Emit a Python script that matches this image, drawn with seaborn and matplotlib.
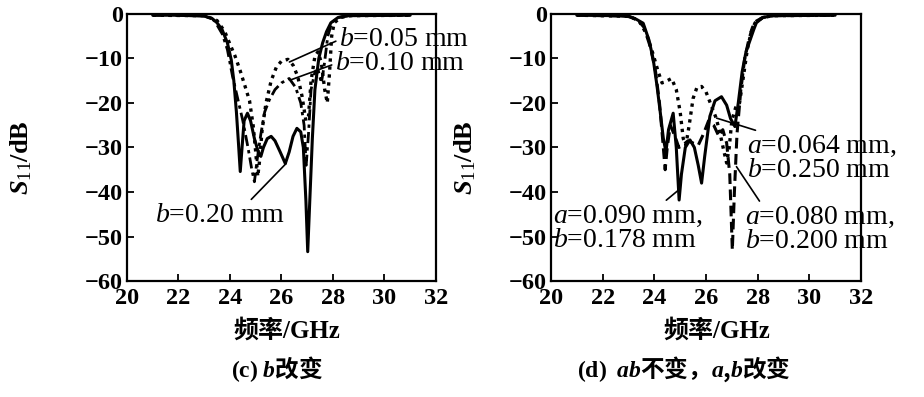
import matplotlib
matplotlib.use('Agg')
import matplotlib.pyplot as plt
import seaborn as sns
import pandas as pd

# curves: (frequency GHz, S11 dB)
c_b005 = [(21.0, -0.3), (23.0, -0.4), (23.5, -1.5), (23.8, -4), (24.0, -6.8), (24.2, -9.5),
          (24.4, -12.8), (24.6, -16.5), (24.76, -19.5), (24.9, -25), (25.0, -31), (25.08, -36.5),
          (25.15, -33), (25.25, -26), (25.4, -20), (25.6, -15), (25.8, -12), (26.0, -10.6),
          (26.25, -10.2), (26.45, -11.5), (26.63, -14), (26.8, -18.5), (26.95, -24), (27.05, -23),
          (27.15, -15), (27.3, -9.5), (27.42, -8.5), (27.55, -11), (27.68, -17), (27.78, -20),
          (27.87, -13), (27.95, -5), (28.05, -2), (28.3, -0.8), (28.7, -0.4), (31.0, -0.3)]
c_b010 = [(21.0, -0.3), (23.0, -0.4), (23.4, -1.5), (23.7, -4.5), (23.9, -8), (24.1, -14),
          (24.3, -19), (24.5, -24), (24.7, -30), (24.85, -35), (24.95, -37.7), (25.05, -33),
          (25.2, -27), (25.35, -22), (25.53, -19.3), (25.75, -17), (26.0, -15.5), (26.3, -14.5),
          (26.55, -16.5), (26.75, -20), (26.88, -25), (26.96, -34), (27.05, -27), (27.15, -17),
          (27.3, -13), (27.42, -12.5), (27.55, -15.5), (27.65, -12), (27.8, -5), (27.95, -2),
          (28.2, -0.8), (28.6, -0.4), (31.0, -0.3)]
c_b020 = [(21.0, -0.3), (22.0, -0.3), (23.0, -0.5), (23.3, -1.0), (23.5, -2), (23.7, -3.6),
          (23.9, -6.5), (24.05, -10.3), (24.15, -15), (24.25, -22), (24.33, -29), (24.4, -35.4),
          (24.47, -30), (24.55, -24), (24.68, -22.3), (24.8, -24), (24.95, -28), (25.1, -31),
          (25.2, -32), (25.3, -30), (25.45, -28), (25.6, -27.5), (25.75, -28.5), (25.95, -31),
          (26.15, -33.6), (26.3, -31), (26.45, -27.5), (26.6, -25.7), (26.75, -26.5), (26.85, -30),
          (26.95, -42), (27.02, -53.4), (27.1, -42), (27.2, -28), (27.3, -17), (27.45, -10),
          (27.6, -6.5), (27.75, -4), (27.92, -2), (28.2, -0.8), (28.6, -0.4), (31.0, -0.3)]

d_a064 = [(21.0, -0.3), (23.0, -0.5), (23.4, -1.5), (23.7, -4.5), (23.95, -9), (24.15, -13),
          (24.3, -15.5), (24.5, -15), (24.67, -14.5), (24.85, -17), (25.0, -22), (25.12, -28),
          (25.22, -29.5), (25.35, -25), (25.5, -19), (25.65, -16.5), (25.83, -16.3), (26.0, -17.5),
          (26.2, -20.5), (26.4, -23.5), (26.55, -27), (26.7, -31), (26.8, -33.5), (26.9, -30),
          (27.0, -24), (27.15, -21), (27.3, -20), (27.45, -14), (27.6, -8), (27.75, -4),
          (27.9, -2), (28.2, -0.8), (28.6, -0.4), (31.0, -0.3)]
d_a090 = [(21.0, -0.3), (22.5, -0.4), (23.0, -0.6), (23.3, -1.2), (23.57, -2.1), (23.8, -6),
          (23.96, -10.3), (24.1, -16), (24.22, -21.6), (24.35, -28), (24.45, -31), (24.55, -26),
          (24.73, -22.3), (24.85, -30), (24.96, -41.8), (25.05, -36), (25.2, -30), (25.38, -28.3),
          (25.55, -30), (25.7, -34), (25.83, -38), (25.95, -32), (26.15, -23), (26.35, -19.5),
          (26.6, -18.6), (26.8, -20.5), (26.95, -23.5), (27.12, -25.3), (27.25, -20), (27.4, -13),
          (27.55, -8.5), (27.7, -6), (27.85, -3.5), (27.95, -2), (28.2, -0.8), (28.6, -0.4),
          (31.0, -0.3)]
d_a080 = [(21.0, -0.3), (23.0, -0.5), (23.35, -1.3), (23.6, -3), (23.85, -7.5), (24.05, -13),
          (24.2, -20), (24.32, -28), (24.42, -35), (24.5, -30), (24.62, -25), (24.8, -27.5),
          (24.95, -30), (25.1, -29.5), (25.3, -28.5), (25.5, -29), (25.7, -29.5), (25.9, -27),
          (26.1, -24), (26.3, -25), (26.5, -27.5), (26.65, -26), (26.8, -29), (26.92, -36),
          (27.02, -53), (27.1, -40), (27.2, -27), (27.35, -17), (27.5, -10), (27.65, -6),
          (27.8, -3), (27.95, -1.6), (28.2, -0.8), (28.6, -0.4), (31.0, -0.3)]

xticks = [20, 22, 24, 26, 28, 30, 32]
yticks = [0, -10, -20, -30, -40, -50, -60]

sns.set_theme(style='white')
plt.rcParams['font.family'] = ['Liberation Serif', 'Noto Sans CJK SC']
plt.rcParams['text.color'] = 'black'
plt.rcParams['axes.labelcolor'] = 'black'
plt.rcParams['mathtext.fontset'] = 'custom'
plt.rcParams['mathtext.rm'] = 'Liberation Serif'
plt.rcParams['mathtext.it'] = 'Liberation Serif:italic'
plt.rcParams['mathtext.bf'] = 'Liberation Serif:bold'
plt.rcParams['mathtext.bfit'] = 'Liberation Serif:italic:bold'

fig = plt.figure(figsize=(9.24, 3.97), dpi=100)
ax1 = fig.add_axes([0.1374, 0.292, 0.3344, 0.673])
ax2 = fig.add_axes([0.5963, 0.292, 0.3355, 0.673])

dots = (0, (1, 1.4))
dashdot = (0, (4, 1.5, 1.2, 1.5))
dashes = (0, (3.5, 1.8))


def curve(ax, pts, ls, lw):
    df = pd.DataFrame(pts, columns=['freq', 's11'])
    sns.lineplot(data=df, x='freq', y='s11', ax=ax, color='black', linestyle=ls, lw=lw, sort=False)


curve(ax1, c_b005, dots, 2.4)
curve(ax1, c_b010, dashdot, 2.0)
curve(ax1, c_b020, '-', 2.2)
curve(ax2, d_a064, dots, 2.4)
curve(ax2, d_a080, dashes, 2.2)
curve(ax2, d_a090, '-', 2.2)

for ax in (ax1, ax2):
    ax.set_xlim(20, 32)
    ax.set_ylim(-60, 0)
    ax.set_xticks(xticks)
    ax.set_yticks(yticks)
    ax.tick_params(direction='in', length=5, width=1.3, color='black', labelsize=17.5,
                   labelcolor='black', top=False, right=False, bottom=True, left=True)
    ax.tick_params(axis='x', pad=5)
    ax.tick_params(axis='y', pad=3)
    for lab in ax.get_xticklabels() + ax.get_yticklabels():
        lab.set_fontweight('bold')
    for sp in ax.spines.values():
        sp.set_color('black')
        sp.set_linewidth(1.6)
    ax.set_xlabel('频率/GHz', fontsize=18, fontweight='bold', color='black')
    ax.set_ylabel(r'$\mathbfit{S}_{11}$/dB', fontsize=19, fontweight='bold', color='black')

ax1.xaxis.set_label_coords(0.518, -0.14)
ax2.xaxis.set_label_coords(0.535, -0.14)
ax1.yaxis.set_label_coords(-0.30, 0.464)
ax2.yaxis.set_label_coords(-0.235, 0.464)

line = dict(arrowstyle='-', color='black', lw=1.2, shrinkA=0, shrinkB=0)
note = dict(fontsize=20, color='black', annotation_clip=False)

ax1.annotate(r'$\it{b}$=0.05 mm', xy=(26.31, -10.8), xytext=(28.24, -5.8), ha='left', va='center',
             arrowprops=dict(line, relpos=(0, 0.5)), **note)
ax1.annotate(r'$\it{b}$=0.10 mm', xy=(26.37, -14.8), xytext=(28.08, -11.2), ha='left', va='center',
             arrowprops=dict(line, relpos=(0, 0.5)), **note)
ax1.annotate(r'$\it{b}$=0.20 mm', xy=(26.18, -33.6), xytext=(21.08, -45.2), ha='left', va='center',
             arrowprops=dict(line, relpos=(0.7, 0.9)), **note)

ax2.annotate('$\\it{a}$=0.064 mm,\n$\\it{b}$=0.250 mm', xy=(26.41, -23.4), xytext=(27.58, -32.4),
             ha='left', va='center', linespacing=0.95, arrowprops=dict(line, relpos=(0.16, 0.97)), **note)
ax2.annotate('$\\it{a}$=0.080 mm,\n$\\it{b}$=0.200 mm', xy=(27.18, -34.3), xytext=(27.5, -48.3),
             ha='left', va='center', linespacing=0.95, arrowprops=dict(line, relpos=(0.12, 0.97)), **note)
ax2.annotate('$\\it{a}$=0.090 mm,\n$\\it{b}$=0.178 mm', xy=(24.93, -39.6), xytext=(20.08, -48.1),
             ha='left', va='center', linespacing=0.95, arrowprops=dict(line, relpos=(0.72, 0.97)), **note)

cap = dict(fontsize=17, fontweight='bold', ha='center', va='center', color='black',
           family=['Noto Sans CJK SC'])
fig.text(0.300, 0.0705, r'$\mathbf{(c)}$ $\mathbfit{b}$改变', **cap)
fig.text(0.740, 0.0705, r'$\mathbf{(d)}$  $\mathbfit{ab}$不变，$\mathbfit{a}$,$\mathbfit{b}$改变', **cap)

fig.savefig('out.png', dpi=100)
